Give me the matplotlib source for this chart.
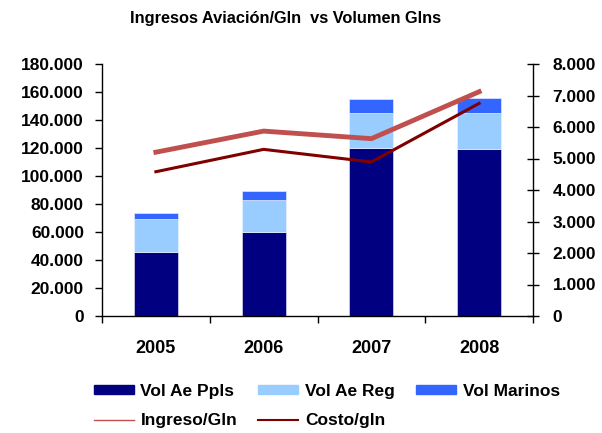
import matplotlib.pyplot as plt
from matplotlib.ticker import FuncFormatter, FixedLocator
from matplotlib.lines import Line2D
from matplotlib.patches import Patch

years = ["2005", "2006", "2007", "2008"]
vol_ppls = [46000, 60000, 120000, 119000]
vol_reg = [23000, 23000, 25000, 26000]
vol_marinos = [4500, 6500, 10000, 11000]
ingreso_gln = [5200, 5870, 5630, 7120]
costo_gln = [4580, 5290, 4890, 6750]

plt.rcParams['font.family'] = ['Liberation Sans', 'DejaVu Sans']
plt.rcParams['font.weight'] = 'bold'

c_ppls = '#000080'
c_reg = '#99CCFF'
c_mar = '#3366FF'
c_ing = '#C0504D'
c_cos = '#800000'

fig = plt.figure(figsize=(6.02, 4.33), dpi=100)
ax = fig.add_axes([102/602, 1-316/433, 431/602, 252/433])
x = list(range(len(years)))
w = 0.41
ax.bar(x, vol_ppls, w, color=c_ppls, edgecolor='#d8d8f0', linewidth=0.5, zorder=2)
b2 = [a for a in vol_ppls]
ax.bar(x, vol_reg, w, bottom=b2, color=c_reg, edgecolor='#e8f2ff', linewidth=0.5, zorder=2)
b3 = [a + b for a, b in zip(vol_ppls, vol_reg)]
ax.bar(x, vol_marinos, w, bottom=b3, color=c_mar, edgecolor='#e0e8ff', linewidth=0.5, zorder=2)

ax.set_xlim(-0.5, 3.5)
ax.set_ylim(0, 180000)
ax.set_yticks(range(0, 180001, 20000))
fmt = FuncFormatter(lambda v, p: "0" if v == 0 else f"{int(v):,}".replace(",", "."))
ax.yaxis.set_major_formatter(fmt)
ax.set_xticks(x)
ax.set_xticklabels(years)
ax.tick_params(axis='x', which='major', length=0, pad=17, labelsize=13)
ax.xaxis.set_minor_locator(FixedLocator([-0.5, 0.5, 1.5, 2.5, 3.5]))
ax.tick_params(axis='x', which='minor', length=5, width=1, direction='out')
ax.tick_params(axis='y', length=5, width=1, direction='out', labelsize=12.5, pad=8)
for s in ['top', 'right']:
    ax.spines[s].set_visible(False)
for s in ['left', 'bottom']:
    ax.spines[s].set_linewidth(1)

ax2 = ax.twinx()
ax2.plot(x, ingreso_gln, color=c_ing, linewidth=3.5, zorder=3)
ax2.plot(x, costo_gln, color=c_cos, linewidth=2.2, zorder=3)
ax2.set_ylim(0, 8000)
ax2.set_yticks(range(0, 8001, 1000))
ax2.yaxis.set_major_formatter(fmt)
ax2.tick_params(axis='y', length=8, width=1, direction='inout', labelsize=12.5, pad=10)
for s in ['top', 'left', 'bottom']:
    ax2.spines[s].set_visible(False)
ax2.spines['right'].set_linewidth(1)

fig.text(286/602, 1-18/433, "Ingresos Aviación/Gln  vs Volumen Glns", ha='center', va='center',
         fontsize=11.8, fontweight='bold')

handles = [Patch(color=c_ppls), Line2D([], [], color=c_ing, lw=1),
           Patch(color=c_reg), Line2D([], [], color=c_cos, lw=1.5),
           Patch(color=c_mar)]
labels = ["Vol Ae Ppls", "Ingreso/Gln", "Vol Ae Reg", "Costo/gln", "Vol Marinos"]
fig.legend(handles, labels, ncol=3, loc='center left', bbox_to_anchor=(78/602, 1-406/433),
           frameon=False, fontsize=12.5, handlelength=2.3, handleheight=0.5,
           columnspacing=1.2, handletextpad=0.4, labelspacing=0.85)

fig.savefig("out.png", dpi=100)
